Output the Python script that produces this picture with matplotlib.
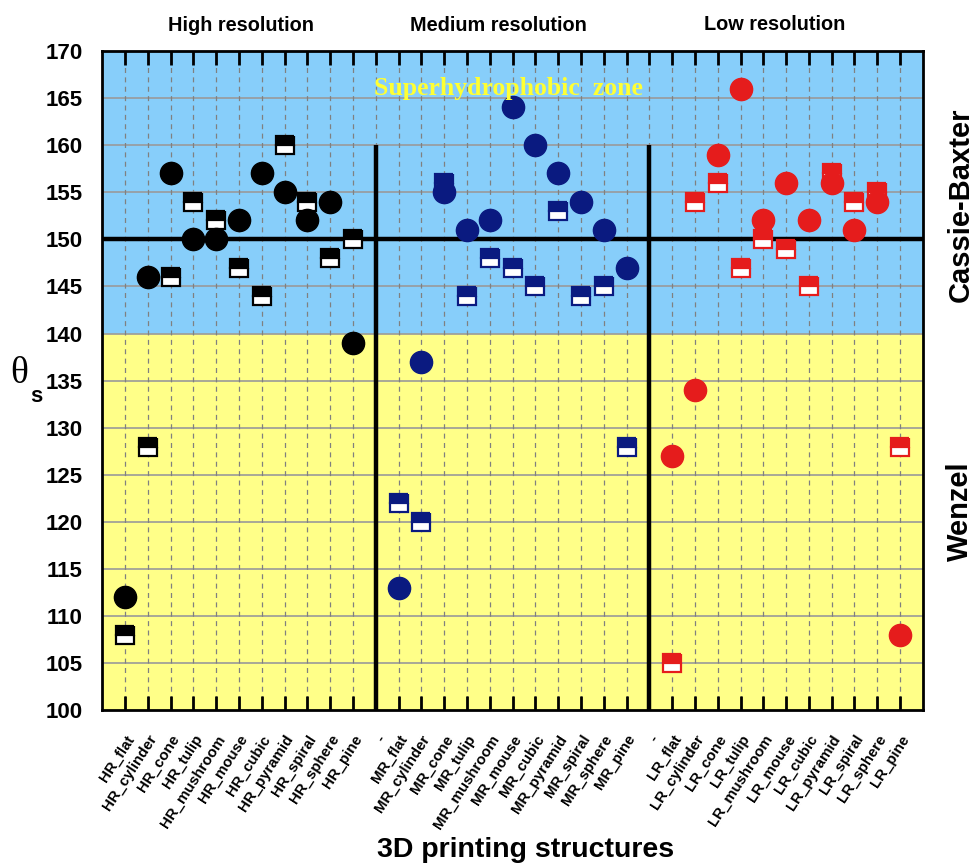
import matplotlib
matplotlib.use("Agg")
import matplotlib.pyplot as plt
from matplotlib.transforms import blended_transform_factory

plt.rcParams['font.family'] = ['Liberation Sans', 'DejaVu Sans']

shapes = ['flat', 'cylinder', 'cone', 'tulip', 'mushroom', 'mouse', 'cubic',
          'pyramid', 'spiral', 'sphere', 'pine']
categories = (['HR_' + s for s in shapes] + ['-'] +
              ['MR_' + s for s in shapes] + ['-'] +
              ['LR_' + s for s in shapes])

hr_circle = [112, 146, 157, 150, 150, 152, 157, 155, 152, 154, 139]
hr_square = [108, 128, 146, 154, 152, 147, 144, 160, 154, 148, 150]
mr_circle = [113, 137, 155, 151, 152, 164, 160, 157, 154, 151, 147]
mr_square = [122, 120, 156, 144, 148, 147, 145, 153, 144, 145, 128]
lr_circle = [127, 134, 159, 166, 152, 156, 152, 156, 151, 154, 108]
lr_square = [105, 154, 156, 147, 150, 149, 145, 157, 154, 155, 128]

groups = [
    ('HR', hr_circle, hr_square, '#000000'),
    ('MR', mr_circle, mr_square, '#0A1A80'),
    ('LR', lr_circle, lr_square, '#E51C1C'),
]

fig = plt.figure(figsize=(9.73, 8.64), dpi=100)
ax = fig.add_axes([0.105, 0.178, 0.8435, 0.763])

xpos = list(range(len(categories)))
ax.set_xlim(-1, len(categories))
ax.set_ylim(100, 170)

# zones
ax.axhspan(140, 170, color='#87CEFA', zorder=0)
ax.axhspan(100, 140, color='#FFFF88', zorder=0)

# grid
for v in range(105, 170, 5):
    ax.axhline(v, color='#9A9A9A', lw=1.2, zorder=0.5)
for x in xpos:
    ax.axvline(x, color='#808080', lw=0.9, ls=(0, (4, 3.5)), zorder=0.5)

# thick division lines
ax.axhline(150, color='black', lw=3.2, zorder=2)
sep_idx = [i for i, c in enumerate(categories) if c == '-']
for s in sep_idx:
    ax.plot([s, s], [100, 160], color='black', lw=3.2, zorder=2,
            solid_capstyle='butt')

# data
for gi, (name, circ, sq, col) in enumerate(groups):
    idx = [categories.index(name + '_' + s) for s in shapes]
    ax.plot(idx, sq, ls='none', marker='s', markersize=13, fillstyle='top',
            markerfacecolor=col, markerfacecoloralt='white',
            markeredgecolor=col, markeredgewidth=1.6, zorder=3)
    ax.plot(idx, circ, ls='none', marker='o', markersize=16,
            markerfacecolor=col, markeredgecolor=col, zorder=4)

ax.set_xticks(xpos)
ax.set_xticklabels(categories, rotation=57, ha='right', va='top',
                   rotation_mode='anchor', fontsize=10.8, fontweight='bold')
ax.set_yticks(range(100, 171, 5))
ax.set_yticklabels([str(v) for v in range(100, 171, 5)], fontsize=16,
                   fontweight='bold')
ax.tick_params(axis='x', which='both', direction='in', top=True, bottom=True,
               length=10, width=2, pad=16, color='black')
ax.tick_params(axis='y', length=0, pad=14)
for sp in ax.spines.values():
    sp.set_linewidth(2)
    sp.set_zorder(5)

fig.text(526 / 973, 1 - 850 / 864, '3D printing structures', ha='center',
         va='center', fontsize=20.5, fontweight='bold')

trans = blended_transform_factory(ax.transData, fig.transFigure)
ax.text(5.1, 0.970, 'High resolution', transform=trans, ha='center',
        va='center', fontsize=14.3, fontweight='bold')
ax.text(16.4, 0.970, 'Medium resolution', transform=trans, ha='center',
        va='center', fontsize=14.3, fontweight='bold')
ax.text(28.5, 0.972, 'Low resolution', transform=trans, ha='center',
        va='center', fontsize=14.3, fontweight='bold')

ax.text(16.8, 166, 'Superhydrophobic  zone', ha='center', va='center',
        fontsize=18.5, fontweight='bold', color='#FFFF33',
        family=['Liberation Serif', 'DejaVu Serif'], zorder=6)

fig.text(0.987, 0.763, 'Cassie-Baxter', rotation=90, ha='center', va='center',
         fontsize=21, fontweight='bold')
fig.text(0.987, 0.408, 'Wenzel', rotation=90, ha='center', va='center',
         fontsize=21, fontweight='bold')

fig.text(0.020, 0.567, '\u03b8', ha='center', va='center', fontsize=27,
         family=['Liberation Serif', 'DejaVu Serif'])
fig.text(0.037, 0.541, 's', ha='center', va='center', fontsize=16,
         fontweight='bold')

fig.savefig('out.png', dpi=100)
